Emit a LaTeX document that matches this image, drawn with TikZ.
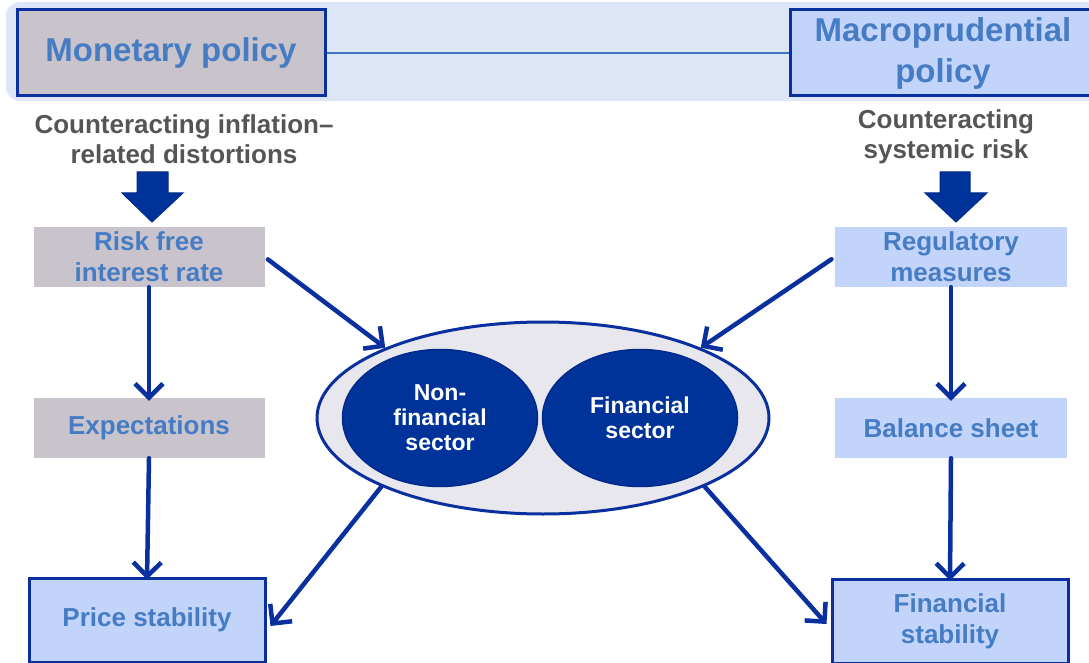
\documentclass[tikz,border=0pt]{standalone}
\usepackage{fontspec}
\setmainfont{Liberation Sans}
\usetikzlibrary{shapes.geometric,arrows.meta}
\definecolor{band}{HTML}{DCE6F6}
\definecolor{grayfill}{HTML}{C9C3CC}
\definecolor{bluefill}{HTML}{C2D4F9}
\definecolor{navy}{HTML}{0A2F9E}
\definecolor{darknavy}{HTML}{002A8C}
\definecolor{txtblue}{HTML}{467CC4}
\definecolor{txtgray}{HTML}{555555}
\definecolor{ellfill}{HTML}{E9E7EE}
\definecolor{innerfill}{HTML}{003399}
\tikzset{
  box/.style={rectangle, inner sep=0pt, align=center, text=txtblue,
    font=\bfseries\fontsize{26}{31}\selectfont},
  graybox/.style={box, fill=grayfill},
  bluebox/.style={box, fill=bluefill},
  framed/.style={draw=navy, line width=3pt},
  title/.style={font=\bfseries\fontsize{33}{40}\selectfont},
  caption/.style={align=center, text=txtgray, inner sep=0pt,
    font=\bfseries\fontsize{26}{30}\selectfont},
  conn/.style={draw=navy, line width=4.5pt, line cap=round,
    -{Straight Barb[length=14pt,width=28pt,line width=4.5pt]}},
  blockarrow/.style={fill=innerfill, draw=darknavy, line width=1pt},
  inner/.style={ellipse, fill=innerfill, draw=darknavy, line width=1.5pt,
    minimum width=195pt, minimum height=137pt, inner sep=0pt,
    text=white, align=center, font=\bfseries\fontsize{23}{25}\selectfont}
}
\begin{document}
\begin{tikzpicture}[x=1pt,y=-1pt]
\useasboundingbox (0,0) rectangle (1089,663);
% top band
\fill[band, rounded corners=14pt] (6,2) rectangle (1110,101);
% titles
\node[graybox, framed, title, minimum width=308pt, minimum height=86pt] (mp) at (171,53) {Monetary policy};
\node[bluebox, framed, title, minimum width=306pt, minimum height=86pt] (mpp) at (943,53) {Macroprudential\\[1pt]policy};
\draw[color=txtblue!90!navy, line width=1.5pt] (mp.east) -- (mpp.west);
% captions
\node[caption] (c1) at (184,139) {Counteracting inflation--\\related distortions};
\node[caption] (c2) at (946,137) {Counteracting\\systemic risk};
% block arrows
\draw[blockarrow] (137,172) -- (168,172) -- (168,193) -- (183,193) -- (152,222) -- (122,193) -- (137,193) -- cycle;
\draw[blockarrow] (940,172) -- (970,172) -- (970,193) -- (987,193) -- (956,222) -- (925,193) -- (940,193) -- cycle;
% left column
\node[graybox, minimum width=231pt, minimum height=60pt] (rf) at (149,257) {Risk free\\interest rate};
\node[graybox, minimum width=231pt, minimum height=60pt] (ex) at (149,428) {Expectations};
\node[bluebox, framed, minimum width=236pt, minimum height=84pt] (ps) at (147,620) {Price stability};
% right column
\node[bluebox, minimum width=232pt, minimum height=60pt] (rm) at (951,257) {Regulatory\\measures};
\node[bluebox, minimum width=232pt, minimum height=60pt] (bs) at (951,428) {Balance sheet};
\node[bluebox, framed, minimum width=236pt, minimum height=84pt] (fs) at (950,621) {Financial\\stability};
% centre ellipses
\node[ellipse, fill=ellfill, draw=navy, line width=3pt, minimum width=452pt, minimum height=192pt] (big) at (543,418) {};
\node[inner] (nf) at (440,418) {Non-\\financial\\sector};
\node[inner] (fin) at (640,418) {Financial\\sector};
% connectors
\draw[conn] (rf.south) -- ([yshift=-3pt]ex.north);
\draw[conn] (ex.south) -- ([yshift=-3pt]ps.north);
\draw[conn] (rm.south) -- ([yshift=-3pt]bs.north);
\draw[conn] (bs.south) -- ([yshift=-3pt]fs.north);
\draw[conn, shorten <=4pt] (rf.east) -- (big.156);
\draw[conn, shorten <=4pt] (rm.west) -- (big.24);
\draw[conn] (big.203) -- ([xshift=4pt,yshift=-6pt]ps.east);
\draw[conn] (big.-23) -- ([xshift=-4pt,yshift=-3pt]fs.west);
\end{tikzpicture}
\end{document}
